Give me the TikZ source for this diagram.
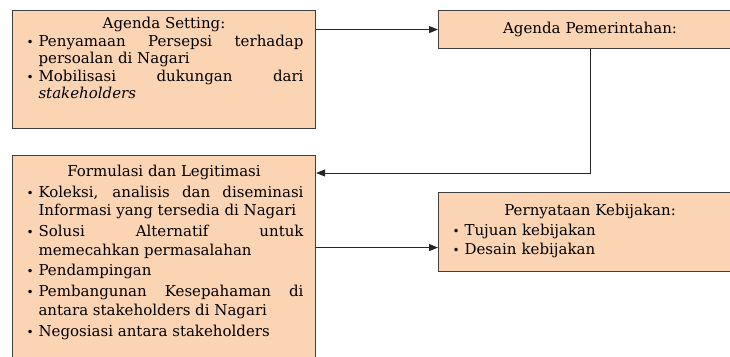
\documentclass[tikz,border=0pt]{standalone}
\usepackage{fontspec}
\setmainfont{DejaVu Serif}
\usetikzlibrary{arrows.meta,positioning}
\definecolor{peach}{HTML}{FBD4B4}
\newcommand{\bitem}{\par\hangindent=14pt\hangafter=1\noindent\hbox to 14pt{\hskip2pt{\fontsize{12}{12}\selectfont\textbullet}\hfil}}

\begin{document}
\begin{tikzpicture}[x=1pt, y=-1pt,
        phase/.style={rectangle, draw=black!75, line width=1.1pt, fill=peach, anchor=north west, inner xsep=12pt, text width=279pt, align=justify, text height=11pt, text=black},
        flow/.style={-{Triangle[length=9pt,width=7pt]}, line width=1pt, draw=black!85},
      ]
      \useasboundingbox (0,0) rectangle (730,356);
      % Policy cycle stages
      \node [phase, inner ysep=7pt, text depth=93pt, font=\fontsize{15}{17.5}\selectfont] (setting) at (12,10) {\centerline{Agenda Setting:}%
        \bitem Penyamaan Persepsi terhadap\linebreak persoalan di Nagari%
        \bitem Mobilisasi dukungan dari\linebreak \textit{stakeholders}\par};
      \node [phase, inner ysep=12pt, text depth=3pt, align=center, font=\fontsize{15}{17.5}\selectfont] (govagenda) at (438,10) {Agenda Pemerintahan:};
      \node [phase, inner ysep=10pt, text depth=176pt, font=\fontsize{15}{18.5}\selectfont\setlength{\parskip}{2.3pt}] (formulation) at (12,155) {\centerline{Formulasi dan Legitimasi}%
        \bitem Koleksi, analisis dan diseminasi\linebreak Informasi yang tersedia di Nagari%
        \bitem Solusi Alternatif untuk\linebreak memecahkan permasalahan%
        \bitem Pendampingan%
        \bitem Pembangunan Kesepahaman di\linebreak antara stakeholders di Nagari%
        \bitem Negosiasi antara stakeholders\par};
      \node [phase, inner ysep=12pt, text depth=44pt, align=left, font=\fontsize{15}{18.5}\selectfont\setlength{\parskip}{1pt}] (statement) at (438,192) {\centerline{Pernyataan Kebijakan:}%
        \bitem Tujuan kebijakan%
        \bitem Desain kebijakan\par};
      \coordinate (back) at ([yshift=-18pt]formulation.north east);
      \coordinate (into) at ([yshift=-15.5pt]statement.west);
      \draw [flow] (setting.east |- govagenda.west) -- (govagenda.west);
      \draw [flow] (govagenda.south) |- (back);
      \draw [flow] (into -| formulation.east) -- (into);
    \end{tikzpicture}
\end{document}
